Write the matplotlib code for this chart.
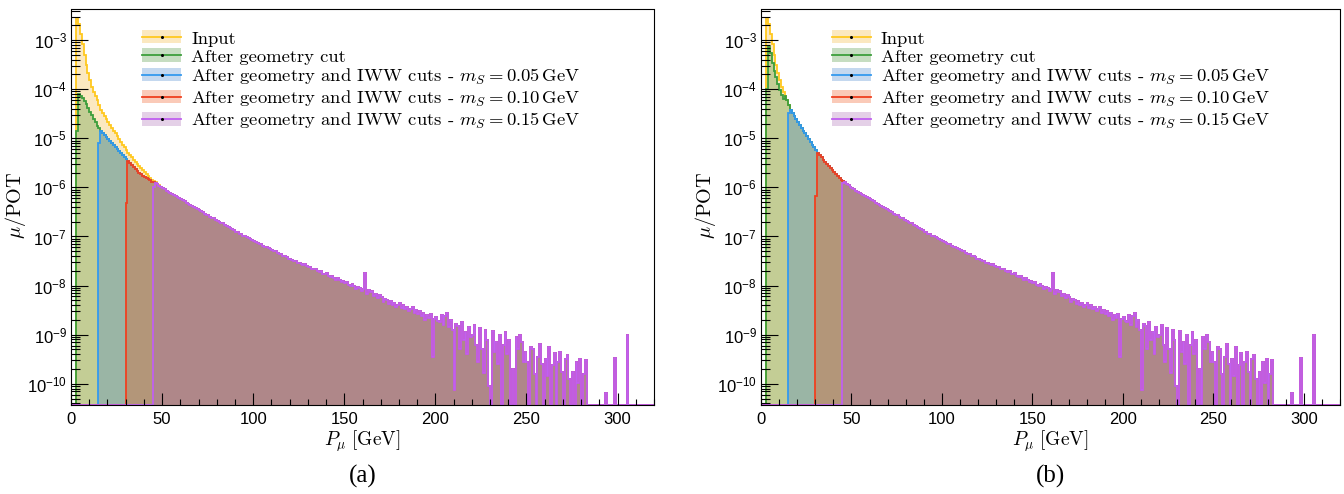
import numpy as np
import matplotlib.pyplot as plt
from matplotlib.patches import Rectangle
from matplotlib.lines import Line2D
from matplotlib.ticker import FixedLocator, FuncFormatter, NullFormatter
from matplotlib.font_manager import FontProperties

plt.rcParams['font.family'] = 'Liberation Sans'
plt.rcParams['mathtext.fontset'] = 'custom'
plt.rcParams['mathtext.rm'] = 'Liberation Sans'
plt.rcParams['mathtext.it'] = 'Liberation Sans:italic'

# log10(mu/POT) per 1 GeV bin, None = empty bin
input_log = [
    None, None, None, -2.57, -2.68, -2.88, -3.08, -3.30, -3.50, -3.67,
    -3.82, -3.95, -4.05, -4.14, -4.23, -4.33, -4.42, -4.48, -4.54, -4.60,
    -4.66, -4.73, -4.79, -4.85, -4.90, -4.96, -5.02, -5.07, -5.13, -5.18,
    -5.24, -5.29, -5.35, -5.39, -5.44, -5.48, -5.52, -5.56, -5.60, -5.64,
    -5.68, -5.72, -5.76, -5.80, -5.84, -5.87, -5.90, -5.93, -5.96, -5.99,
    -6.02, -6.04, -6.07, -6.09, -6.12, -6.14, -6.16, -6.18, -6.20, -6.22,
    -6.24, -6.26, -6.28, -6.31, -6.33, -6.35, -6.37, -6.40, -6.42, -6.44,
    -6.47, -6.49, -6.51, -6.54, -6.56, -6.57, -6.60, -6.62, -6.63, -6.66,
    -6.68, -6.70, -6.72, -6.73, -6.76, -6.79, -6.80, -6.83, -6.85, -6.87,
    -6.90, -6.91, -6.94, -6.95, -6.98, -7.00, -7.01, -7.04, -7.06, -7.07,
    -7.10, -7.11, -7.13, -7.16, -7.16, -7.19, -7.21, -7.21, -7.24, -7.26,
    -7.27, -7.30, -7.30, -7.33, -7.35, -7.35, -7.39, -7.40, -7.41, -7.45,
    -7.45, -7.47, -7.50, -7.49, -7.53, -7.54, -7.55, -7.58, -7.57, -7.61,
    -7.63, -7.62, -7.66, -7.67, -7.66, -7.71, -7.72, -7.71, -7.76, -7.77,
    -7.75, -7.80, -7.82, -7.80, -7.85, -7.88, -7.84, -7.89, -7.92, -7.90,
    -7.94, -7.93, -7.98, -8.01, -7.96, -8.00, -8.06, -8.03, -8.04, -8.10,
    -8.07, -7.74, -8.18, -8.09, -8.14, -8.12, -8.22, -8.17, -8.26, -8.20,
    -8.24, -8.33, -8.27, -8.30, -8.38, -8.31, -8.40, -8.35, -8.44, -8.40,
    -8.36, -8.45, -8.40, -8.48, -8.44, -8.52, -8.47, -8.43, -8.55, -8.50,
    -8.58, -8.52, -8.62, -8.56, -8.70, -8.60, -8.65, -8.58, -9.45, -8.68,
    -8.63, -8.72, -8.75, -8.60, -8.80, -8.62, -8.55, -8.85, -8.70, -8.90,
    -10.13, -8.78, -8.82, -9.30, -8.75, -9.10, -8.95, -9.40, -8.85, -9.05,
    -9.00, -8.80, -9.20, -9.55, -8.86, -9.30, -9.78, -8.90, -9.10, -10.05,
    None, -8.92, -9.35, -9.15, -9.60, -9.00, None, -9.20, -8.95, -9.40,
    -9.10, None, -9.70, None, -9.05, -9.30, -9.00, -9.15, -9.55, -9.35,
    -9.55, None, -9.25, -9.30, -9.80, None, -9.45, -9.18, -9.60, None,
    -9.50, -9.85, -9.25, None, -9.62, -9.38, None, -9.55, -9.35, -9.75,
    None, -9.50, -9.42, -9.90, None, -9.75, None, -9.55, -9.98, -9.50,
    None, -9.80, -9.52, None, None, None, None, None, None, None,
    None, None, None, -10.19, None, None, None, None, -9.47, None,
    None, None, None, None, None, -9.00, None, None, None, None,
    None, None, None, None, None, None, None, None, None, None,
]

# after geometry cut, low-momentum bins (above these it equals the input)
geo_a_log = [
    None, None, None, -4.86, -4.10, -4.13, -4.18, -4.24, -4.31, -4.38,
    -4.46, -4.53, -4.60, -4.67, -4.74, -4.80, -4.85, -4.89, -4.93, -4.97,
    -5.02, -5.06, -5.10, -5.14, -5.18, -5.22, -5.26, -5.30, -5.34, -5.38,
    -5.43, -5.47, -5.51, -5.55, -5.59, -5.63, -5.67, -5.70, -5.73, -5.76,
    -5.78, -5.81, -5.83, -5.85, -5.88, -5.90, -5.92, -5.94, -5.97, -5.99,
]
geo_b_log = [
    None, None, None, -4.00, -3.14, -3.27, -3.47, -3.62, -3.76, -3.90,
    -4.02, -4.12, -4.20,
]

# IWW cut thresholds (GeV) and the partly removed first bin above each
iww_cut = [15, 30, 45]
iww_edge_a = [-5.10, -6.32, -6.00]
iww_edge_b = [-4.49, -6.18, -5.92]

labels = [
    'Input',
    'After geometry cut',
    r'After geometry and IWW cuts - $m_S = 0.05\,\mathrm{GeV}$',
    r'After geometry and IWW cuts - $m_S = 0.10\,\mathrm{GeV}$',
    r'After geometry and IWW cuts - $m_S = 0.15\,\mathrm{GeV}$',
]
line_colors = ['#ffc820', '#3c9e3c', '#3399ee', '#f04020', '#c060f0']
fill_colors = ['#f2b630', '#438f32', '#3e80cd', '#f05014', '#a866b0']
fill_alpha = 0.3

edges = np.arange(0, len(input_log) + 1, 1.0)
y_min, y_max = 3.7e-11, 4.2e-3


class HistKey:
    def __init__(self, lc, fc):
        self.lc, self.fc = lc, fc


class HistHandler:
    # ROOT-like legend entry: filled box, line through it, tiny marker
    def legend_artist(self, legend, orig, fontsize, handlebox):
        x0, y0 = handlebox.xdescent, handlebox.ydescent
        w, h = handlebox.width, handlebox.height
        tr = handlebox.get_transform()
        box = Rectangle((x0, y0), w, h, facecolor=orig.fc, alpha=fill_alpha,
                        edgecolor='none', transform=tr)
        line = Line2D([x0, x0 + w], [y0 + h / 2] * 2, color=orig.lc, lw=1.3, transform=tr)
        dot = Line2D([x0 + w / 2], [y0 + h / 2], marker='o', ms=1.2, color='k', lw=0, transform=tr)
        for a in (box, line, dot):
            handlebox.add_artist(a)
        return box


def to_lin(logs, n):
    v = np.zeros(n)
    for i, l in enumerate(logs[:n]):
        if l is not None:
            v[i] = 10.0 ** l
    return v


def build_series(geo_log, edge_log):
    n = len(input_log)
    inp = to_lin(input_log, n)
    geo = inp.copy()
    geo[:len(geo_log)] = to_lin(geo_log, len(geo_log))
    out = [inp, geo]
    for cut, e in zip(iww_cut, edge_log):
        s = geo.copy()
        s[:cut] = 0.0
        s[cut] = 10.0 ** e
        out.append(s)
    return out


def draw_panel(ax, geo_log, edge_log):
    for vals, lc, fc in zip(build_series(geo_log, edge_log), line_colors, fill_colors):
        y = np.where(vals > 0, vals, y_min)
        ax.stairs(y, edges, baseline=y_min, fill=True, color=fc, alpha=fill_alpha, lw=0)
        ax.stairs(y, edges, baseline=y_min, color=lc, lw=1.3)

    ax.set_yscale('log')
    ax.set_xlim(0, 320)
    ax.set_ylim(y_min, y_max)

    ax.xaxis.set_major_locator(FixedLocator(np.arange(0, 301, 50)))
    ax.xaxis.set_minor_locator(FixedLocator(np.arange(0, 321, 10)))
    dec = np.arange(-11, -1)
    ax.yaxis.set_major_locator(FixedLocator(10.0 ** dec))
    ax.yaxis.set_minor_locator(FixedLocator([m * 10.0 ** d for d in dec for m in range(2, 10)]))
    ax.yaxis.set_major_formatter(FuncFormatter(lambda v, p: r'$\mathregular{10^{%d}}$' % round(np.log10(v))))
    ax.yaxis.set_minor_formatter(NullFormatter())

    ax.tick_params(axis='both', which='both', direction='in', labelsize=12, width=0.8, color='k')
    ax.tick_params(axis='y', which='major', length=12.5, pad=3)
    ax.tick_params(axis='y', which='minor', length=6.5)
    ax.tick_params(axis='x', which='major', length=8.5, pad=5)
    ax.tick_params(axis='x', which='minor', length=4.3)
    for sp in ax.spines.values():
        sp.set_linewidth(0.8)

    ax.set_xlabel(r'$P_\mu\ [\mathrm{GeV}]$', fontsize=14, math_fontfamily='cm')
    ax.set_ylabel(r'$\mu/\mathrm{POT}$', fontsize=14.5, math_fontfamily='cm')
    ax.xaxis.set_label_coords(0.5, -0.06)
    ax.yaxis.set_label_coords(-0.074, 0.506)

    handles = [HistKey(lc, fc) for lc, fc in zip(line_colors, fill_colors)]
    ax.legend(handles, labels, handler_map={HistKey: HistHandler()},
              loc='upper left', bbox_to_anchor=(0.1218, 0.947), frameon=False,
              borderpad=0, borderaxespad=0, handlelength=2.1, handleheight=0.75,
              handletextpad=0.54, labelspacing=0.1,
              prop=FontProperties(family='cmr10', size=13.4, math_fontfamily='cm'))


fig = plt.figure(figsize=(13.44, 4.94), dpi=100)
ax_a = fig.add_axes([71 / 1344, 89 / 494, 583 / 1344, 395.5 / 494])
ax_b = fig.add_axes([761 / 1344, 89 / 494, 579 / 1344, 395.5 / 494])
draw_panel(ax_a, geo_a_log, iww_edge_a)
draw_panel(ax_b, geo_b_log, iww_edge_b)

fig.text((71 + 583 / 2) / 1344, 18 / 494, '(a)', ha='center', va='center',
         family='Liberation Serif', fontsize=18)
fig.text((761 + 579 / 2) / 1344, 18 / 494, '(b)', ha='center', va='center',
         family='Liberation Serif', fontsize=18)

fig.savefig('out.png', dpi=100)
